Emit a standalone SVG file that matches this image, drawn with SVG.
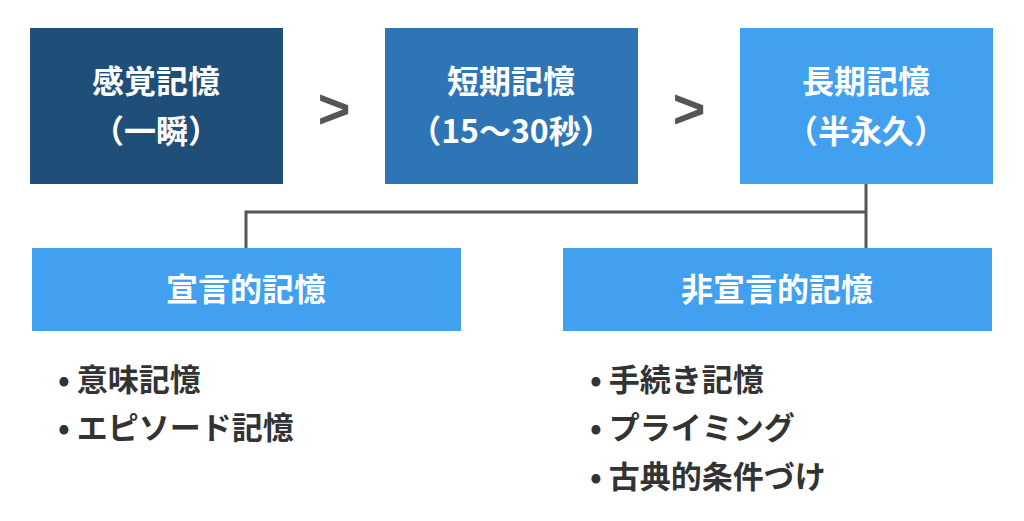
<svg xmlns="http://www.w3.org/2000/svg" width="1024" height="521" viewBox="0 0 1024 521">
<style>
.t{font-family:"Noto Sans CJK JP","Noto Sans",sans-serif;font-weight:bold;fill:#fff;text-anchor:middle;font-size:32px}
.b{font-family:"Noto Sans CJK JP","Noto Sans",sans-serif;font-weight:bold;fill:#333;font-size:31px}
.g{font-family:"Liberation Sans",sans-serif;font-weight:bold;fill:#555;font-size:56px;text-anchor:middle}
.c{stroke:#555;stroke-width:3;fill:none}
</style>
<rect width="1024" height="521" fill="#fff"/>
<g id="n1"><rect x="30" y="28" width="253" height="156" fill="#1f4e79"/><text class="t" x="156" y="93">感覚記憶</text><text class="t" x="156" y="143">（一瞬）</text></g>
<g id="n2"><rect x="385" y="28" width="253" height="156" fill="#2e75b6"/><text class="t" x="511" y="93">短期記憶</text><text class="t" x="511" y="143">（15〜30秒）</text></g>
<g id="n3"><rect x="740" y="28" width="253" height="156" fill="#42a0f0"/><text class="t" x="866" y="93">長期記憶</text><text class="t" x="866" y="143">（半永久）</text></g>
<text class="g" x="334" y="128">&gt;</text>
<text class="g" x="689" y="128">&gt;</text>
<g id="connectors"><path class="c" d="M866 184V248M866 212H246V248"/></g>
<g id="n4"><rect x="32" y="248" width="429" height="83" fill="#42a0f0"/><text class="t" x="246" y="301">宣言的記憶</text></g>
<g id="n5"><rect x="563" y="248" width="429" height="83" fill="#42a0f0"/><text class="t" x="777" y="301">非宣言的記憶</text></g>
<g id="l1"><text class="b" x="58" y="391">• 意味記憶</text><text class="b" x="58" y="439">• エピソード記憶</text></g>
<g id="l2"><text class="b" x="590" y="391">• 手続き記憶</text><text class="b" x="590" y="439">• プライミング</text><text class="b" x="590" y="488">• 古典的条件づけ</text></g>
</svg>
